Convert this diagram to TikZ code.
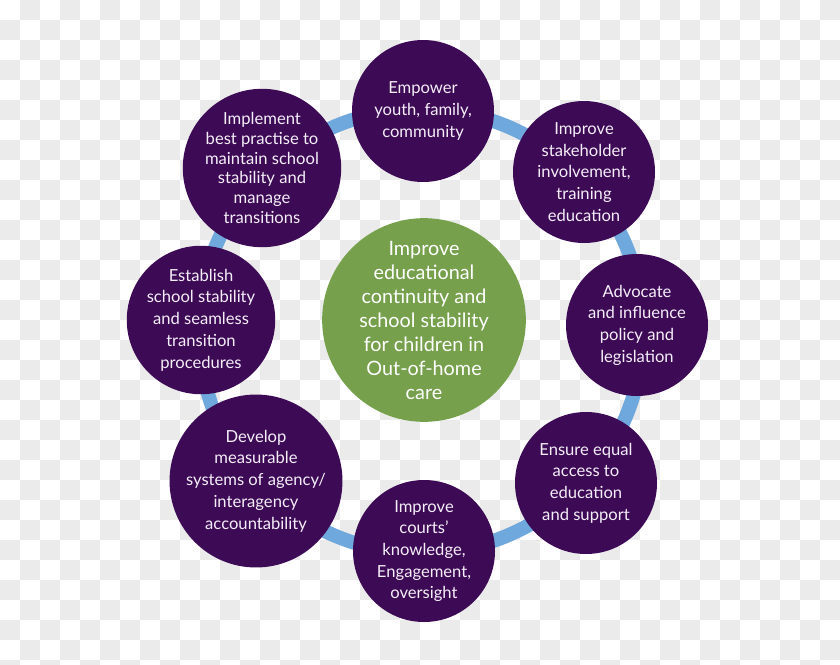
\documentclass[tikz,border=0pt]{standalone}
\usepackage{fontspec}
\setmainfont{Lato}
\definecolor{purp}{HTML}{3D0A55}
\definecolor{grn}{HTML}{76A04C}
\definecolor{ringblue}{HTML}{6FA8DC}
\definecolor{chk}{HTML}{EBEBEB}
\definecolor{ptext}{HTML}{F4EEF8}
\begin{document}
\begin{tikzpicture}[x=1pt,y=-1pt,
  pc/.style={circle, fill=purp, minimum size=142pt, inner sep=0pt, text=ptext, align=center, font=\fontsize{16.6}{21.7}\selectfont},
  gc/.style={circle, fill=grn, minimum size=193pt, inner sep=0pt, text=white, align=center, font=\fontsize{19.8}{24}\selectfont},
  ring/.style={draw=ringblue, line width=14pt}]
\useasboundingbox (0,0) rectangle (840,664);
\fill[white] (0,0) rectangle (840,664);
\foreach \i in {0,...,41}{
  \foreach \j in {0,...,33}{
    \pgfmathtruncatemacro\s{mod(\i+\j,2)}
    \ifnum\s=1 \fill[chk] (\i*20,\j*20) rectangle ++(20,20); \fi
  }
}
\coordinate (ringc) at (421,331);
\draw[ring] (ringc) circle[radius=222];
\node[gc] (center) at (424,320) {Improve\\educational\\continuity and\\school stability\\for children in\\Out-of-home\\care};
\node[pc] (n1) at (423,111) {Empower\\youth, family,\\community};
\node[pc] (n2) at (584,172) {Improve\\stakeholder\\involvement,\\training\\education};
\node[pc] (n3) at (637,325) {Advocate\\and influence\\policy and\\legislation};
\node[pc] (n4) at (586,483) {Ensure equal\\access to\\education\\and support};
\node[pc] (n5) at (424,551) {Improve\\courts’\\knowledge,\\Engagement,\\oversight};
\node[pc] (n6) at (256,481) {Develop\\measurable\\systems of agency/\\interagency\\accountability};
\node[pc] (n7) at (201,320) {Establish\\school stability\\and seamless\\transition\\procedures};
\node[pc, font=\fontsize{16.6}{19.7}\selectfont] (n8) at (262,168) {Implement\\best practise to\\maintain school\\stability and\\manage\\transitions};
\end{tikzpicture}
\end{document}
